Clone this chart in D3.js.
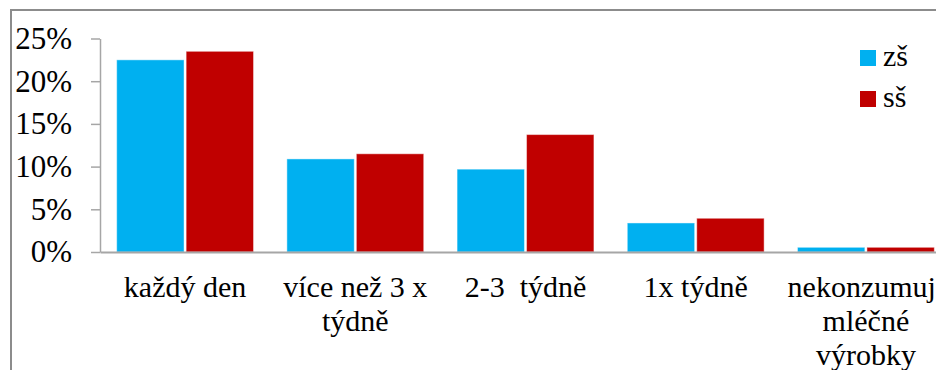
<!DOCTYPE html>
<html>
<head>
<meta charset="utf-8">
<script src="https://cdn.jsdelivr.net/npm/d3@7"></script>
<style>
  html, body { margin: 0; padding: 0; background: #fff; }
  svg { display: block; }
</style>
</head>
<body>
<svg id="chart" width="936" height="370"></svg>
<script>
// Frequency of dairy consumption, primary (ZŠ) vs secondary (SŠ) school pupils
const categories = ["každý den", "více než 3 x týdně", "2-3  týdně", "1x týdně", "nekonzumují mléčné výrobky"];
const categoryLines = [["každý den"], ["více než 3 x", "týdně"], ["2-3  týdně"], ["1x týdně"], ["nekonzumují", "mléčné", "výrobky"]];
const seriesNames = ["zš", "sš"];
const zsValues = [22.5, 10.9, 9.7, 3.4, 0.55];
const ssValues = [23.5, 11.5, 13.75, 3.95, 0.55];
const yTicks = [0, 5, 10, 15, 20, 25];
const colors = ["#00B0F0", "#C00000"];

const svg = d3.select("#chart");
const font = "'Liberation Serif', 'Times New Roman', serif";

// outer frame of the chart area
svg.append("path")
  .attr("d", "M11,372 L11,10 L940,10")
  .attr("fill", "none")
  .attr("stroke", "#8c8c8c")
  .attr("stroke-width", 2);

const x0 = d3.scaleBand().domain(categories).range([100, 951]).paddingInner(0.196).paddingOuter(0.098);
const x1 = d3.scaleBand().domain(seriesNames).range([0, x0.bandwidth()]).paddingInner(0.03);
const y = d3.scaleLinear().domain([0, 25]).range([252, 38.5]);

// bars
const groups = svg.append("g").selectAll("g")
  .data(categories)
  .join("g")
  .attr("transform", d => `translate(${x0(d)},0)`);

groups.selectAll("rect")
  .data((d, i) => [
    { s: seriesNames[0], v: zsValues[i], c: colors[0] },
    { s: seriesNames[1], v: ssValues[i], c: colors[1] }
  ])
  .join("rect")
  .attr("x", d => x1(d.s))
  .attr("y", d => y(d.v))
  .attr("width", x1.bandwidth())
  .attr("height", d => y(0) - y(d.v))
  .attr("fill", d => d.c)
  .attr("stroke", "#ffffff")
  .attr("stroke-opacity", 0.45)
  .attr("stroke-width", 1);

// y axis
const yAxis = svg.append("g")
  .attr("transform", "translate(100,0)")
  .call(d3.axisLeft(y).tickValues(yTicks).tickFormat(d => d + "%").tickSize(9).tickSizeOuter(0).tickPadding(19));
yAxis.select(".domain").attr("stroke", "#a6a6a6").attr("stroke-width", 1.5);
yAxis.selectAll(".tick line").attr("stroke", "#a6a6a6").attr("stroke-width", 1.5);
yAxis.selectAll(".tick text")
  .attr("font-family", font)
  .attr("font-size", 31)
  .attr("fill", "#000");

// x axis baseline
const xAxis = svg.append("g")
  .attr("transform", `translate(0,${y(0)})`)
  .call(d3.axisBottom(x0).tickSize(0).tickSizeOuter(0).tickFormat(""));
xAxis.select(".domain").attr("stroke", "#a6a6a6").attr("stroke-width", 2);

// category labels (multi-line)
svg.append("g").selectAll("text")
  .data(categories)
  .join("text")
  .attr("y", 297)
  .attr("text-anchor", "middle")
  .attr("font-family", font)
  .attr("font-size", 30)
  .attr("fill", "#000")
  .style("white-space", "pre")
  .each(function(d, i) {
    const cx = x0(d) + x0.bandwidth() / 2;
    d3.select(this).selectAll("tspan")
      .data(categoryLines[i])
      .join("tspan")
      .attr("x", cx)
      .attr("dy", (t, j) => j === 0 ? 0 : 34)
      .text(t => t);
  });

// legend
const legend = svg.append("g").selectAll("g")
  .data(seriesNames)
  .join("g")
  .attr("transform", (d, i) => `translate(860,${50 + i * 41})`);
legend.append("rect")
  .attr("width", 16).attr("height", 16)
  .attr("fill", (d, i) => colors[i]);
legend.append("text")
  .attr("x", 23).attr("y", 16)
  .attr("font-family", font)
  .attr("font-size", 30)
  .attr("fill", "#000")
  .text(d => d);
</script>
</body>
</html>
